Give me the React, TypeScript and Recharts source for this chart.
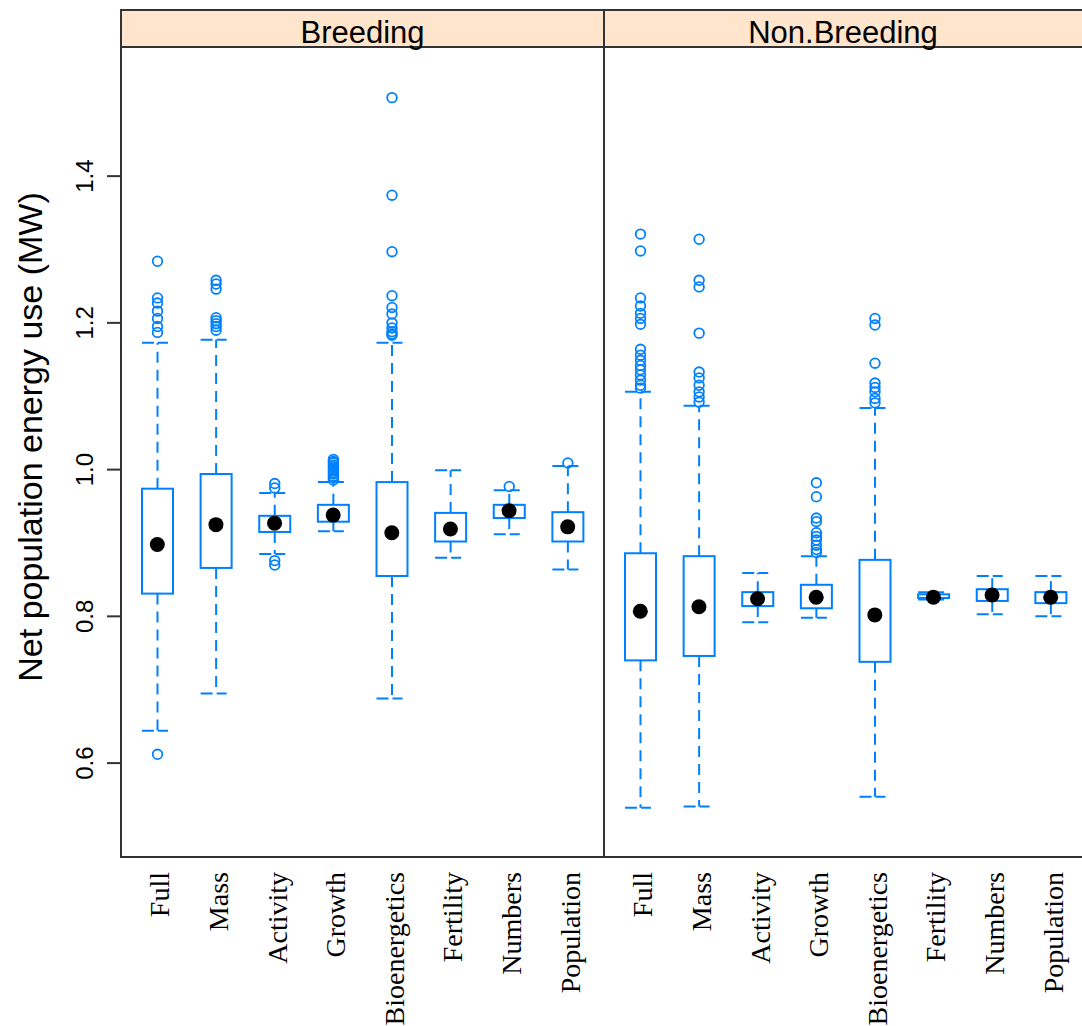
import React from 'react';
import { ComposedChart, Bar, Scatter, XAxis, YAxis } from 'recharts';

const categories = ['Full', 'Mass', 'Activity', 'Growth', 'Bioenergetics', 'Fertility', 'Numbers', 'Population'];
const yTicks = [0.6, 0.8, 1.0, 1.2, 1.4];

// Breeding panel
const breedingLow = [0.644, 0.695, 0.885, 0.916, 0.688, 0.880, 0.912, 0.864];
const breedingQ1 = [0.831, 0.866, 0.915, 0.929, 0.855, 0.902, 0.934, 0.902];
const breedingMedian = [0.898, 0.925, 0.927, 0.938, 0.914, 0.919, 0.944, 0.922];
const breedingQ3 = [0.974, 0.994, 0.937, 0.952, 0.983, 0.941, 0.952, 0.942];
const breedingHigh = [1.173, 1.177, 0.968, 0.983, 1.173, 0.999, 0.972, 1.005];
const breedingOutliers = [
  [0.612, 1.187, 1.195, 1.206, 1.216, 1.227, 1.234, 1.284],
  [1.190, 1.195, 1.199, 1.203, 1.207, 1.246, 1.253, 1.258],
  [0.870, 0.876, 0.975, 0.981],
  [0.986, 0.989, 0.991, 0.994, 0.996, 0.999, 1.001, 1.004, 1.006, 1.009, 1.011, 1.014],
  [1.183, 1.185, 1.188, 1.193, 1.200, 1.212, 1.221, 1.237, 1.297, 1.374, 1.507],
  [],
  [0.977],
  [1.009],
];

// Non.Breeding panel
const nonBreedingLow = [0.539, 0.541, 0.792, 0.798, 0.554, 0.823, 0.803, 0.800];
const nonBreedingQ1 = [0.740, 0.746, 0.814, 0.811, 0.738, 0.825, 0.821, 0.818];
const nonBreedingMedian = [0.807, 0.813, 0.824, 0.826, 0.802, 0.826, 0.829, 0.826];
const nonBreedingQ3 = [0.886, 0.882, 0.833, 0.843, 0.877, 0.830, 0.837, 0.833];
const nonBreedingHigh = [1.106, 1.087, 0.859, 0.882, 1.084, 0.833, 0.855, 0.855];
const nonBreedingOutliers = [
  [1.111, 1.115, 1.122, 1.129, 1.136, 1.142, 1.149, 1.156, 1.164, 1.198, 1.206, 1.213, 1.223, 1.234, 1.298, 1.321],
  [1.092, 1.099, 1.106, 1.115, 1.125, 1.133, 1.186, 1.249, 1.258, 1.314],
  [],
  [0.887, 0.891, 0.897, 0.904, 0.909, 0.914, 0.929, 0.934, 0.963, 0.982],
  [1.091, 1.097, 1.106, 1.112, 1.118, 1.145, 1.197, 1.206],
  [],
  [],
  [],
];

const BLUE = '#0080ff';
const SANS = '"Liberation Sans", Arial, sans-serif';
const SERIF = '"Liberation Serif", "Times New Roman", serif';

const buildRows = (lo: number[], q1: number[], med: number[], q3: number[], hi: number[], outs: number[][]) =>
  categories.map((name, i) => ({
    name,
    whisker: [lo[i], hi[i]],
    box: [q1[i], q3[i]],
    median: med[i],
    lo: lo[i],
    q1: q1[i],
    q3: q3[i],
    hi: hi[i],
    outliers: outs[i],
  }));

const breedingRows = buildRows(breedingLow, breedingQ1, breedingMedian, breedingQ3, breedingHigh, breedingOutliers);
const nonBreedingRows = buildRows(nonBreedingLow, nonBreedingQ1, nonBreedingMedian, nonBreedingQ3, nonBreedingHigh, nonBreedingOutliers);

// whiskers, caps and outliers; the bar spans lo..hi so the same linear scale places the rest
const WhiskerShape = (props: any) => {
  const { x, y, width, height, payload } = props;
  const cx = x + width / 2;
  const k = height / (payload.hi - payload.lo);
  const toY = (v: number) => y + (payload.hi - v) * k;
  const yQ1 = toY(payload.q1);
  const yQ3 = toY(payload.q3);
  const yLo = y + height;
  return (
    <g>
      <line x1={cx} x2={cx} y1={yQ3} y2={y} stroke={BLUE} strokeWidth={2} strokeDasharray="11 7" />
      <line x1={cx} x2={cx} y1={yQ1} y2={yLo} stroke={BLUE} strokeWidth={2} strokeDasharray="11 7" />
      <line x1={x} x2={x + width} y1={y} y2={y} stroke={BLUE} strokeWidth={2} strokeDasharray="12 4 10 20" />
      <line x1={x} x2={x + width} y1={yLo} y2={yLo} stroke={BLUE} strokeWidth={2} strokeDasharray="12 4 10 20" />
      {payload.outliers.map((v: number, i: number) => (
        <circle key={i} cx={cx} cy={toY(v)} r={4.8} fill="none" stroke={BLUE} strokeWidth={1.8} />
      ))}
    </g>
  );
};

const BoxShape = (props: any) => {
  const { x, y, width, height } = props;
  return <rect x={x} y={y} width={width} height={Math.max(height, 1)} fill="#fff" stroke={BLUE} strokeWidth={2} />;
};

const MedianDot = (props: any) => <circle cx={props.cx} cy={props.cy} r={7.5} fill="#000" />;

const CategoryTick = (props: any) => {
  const { x, payload } = props;
  return (
    <text
      transform={`translate(${x + 12}, 872) rotate(-90)`}
      textAnchor="end"
      fontFamily={SERIF}
      fontSize={28}
      fill="#000"
    >
      {payload.value}
    </text>
  );
};

const ValueTick = (props: any) => {
  const { x, y, payload } = props;
  return (
    <text transform={`translate(${x}, ${y}) rotate(-90)`} textAnchor="middle" fontFamily={SANS} fontSize={24} fill="#000">
      {Number(payload.value).toFixed(1)}
    </text>
  );
};

const Panel = ({ rows, width, showY }: { rows: any[]; width: number; showY: boolean }) => (
  <ComposedChart width={width} height={1026} data={rows} margin={{ top: 47, right: 0, bottom: 0, left: 0 }}>
    <XAxis
      dataKey="name"
      type="category"
      height={169}
      interval={0}
      axisLine={false}
      tickLine={false}
      padding={{ left: 7, right: 7 }}
      tick={<CategoryTick />}
    />
    <XAxis xAxisId="box" dataKey="name" type="category" hide padding={{ left: 7, right: 7 }} />
    <YAxis
      type="number"
      domain={[0.472, 1.576]}
      allowDataOverflow
      ticks={yTicks}
      width={121}
      hide={!showY}
      axisLine={false}
      tickSize={14}
      tickMargin={14}
      tickLine={{ stroke: '#333', strokeWidth: 2 }}
      tick={<ValueTick />}
    />
    <Bar dataKey="whisker" barSize={31} shape={<WhiskerShape />} isAnimationActive={false} />
    <Bar dataKey="box" xAxisId="box" barSize={31} shape={<BoxShape />} isAnimationActive={false} />
    <Scatter dataKey="median" shape={<MedianDot />} isAnimationActive={false} />
  </ComposedChart>
);

export default function App() {
  return (
    <div style={{ position: 'absolute', left: 0, top: 0, width: 1082, height: 1026, overflow: 'hidden', background: '#fff' }}>
      <div style={{ position: 'absolute', left: 0, top: 0 }}>
        <Panel rows={breedingRows} width={604} showY />
      </div>
      <div style={{ position: 'absolute', left: 604, top: 0 }}>
        <Panel rows={nonBreedingRows} width={483} showY={false} />
      </div>
      <svg width={1082} height={1026} style={{ position: 'absolute', left: 0, top: 0, pointerEvents: 'none' }}>
        <rect x={121} y={10} width={483} height={37} fill="#ffe5cc" stroke="#333" strokeWidth={2} />
        <rect x={604} y={10} width={483} height={37} fill="#ffe5cc" stroke="#333" strokeWidth={2} />
        <rect x={121} y={47} width={483} height={810} fill="none" stroke="#333" strokeWidth={2} />
        <rect x={604} y={47} width={483} height={810} fill="none" stroke="#333" strokeWidth={2} />
        <text x={362.5} y={43} textAnchor="middle" fontFamily={SANS} fontSize={31} fill="#000">
          Breeding
        </text>
        <text x={843} y={43} textAnchor="middle" fontFamily={SANS} fontSize={31} fill="#000">
          Non.Breeding
        </text>
        <text transform="translate(42, 437) rotate(-90)" textAnchor="middle" fontFamily={SANS} fontSize={34} fill="#000">
          Net population energy use (MW)
        </text>
      </svg>
    </div>
  );
}
